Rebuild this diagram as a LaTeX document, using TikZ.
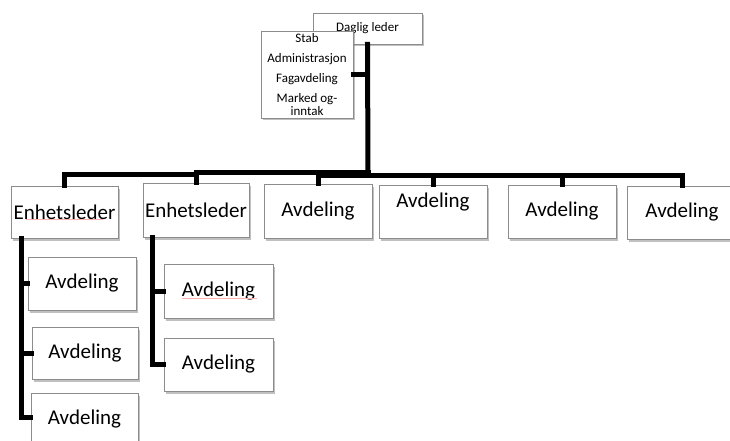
\documentclass[tikz,border=0pt]{standalone}
\usepackage{fontspec}
\setmainfont{Carlito}
\usetikzlibrary{shadows}
\begin{document}
\begin{tikzpicture}[x=1pt,y=-1pt,
  box/.style={draw=black!45, line width=0.8pt, fill=white, inner sep=0pt,
    drop shadow={shadow xshift=1.5pt, shadow yshift=-2.5pt, opacity=0.45, fill=black!55},
    font=\fontsize{21}{25}\selectfont},
  small/.style={font=\fontsize{13}{20}\selectfont},
  conn/.style={line width=5pt, line join=miter, line cap=rect},
  spell/.style={draw=red!30, line width=0.6pt}]
\useasboundingbox (0,0) rectangle (730,441);
\clip (0,0) rectangle (730,441);
% top
\node[box, small, minimum width=109pt, minimum height=31pt] (dl) at (367.5,28.5) {Daglig leder};
\node[box, small, align=center, minimum width=92pt, minimum height=87pt] (stab) at (307,74.5)
  {Stab\\Administrasjon\\Fagavdeling\\Marked og-\\[-7pt]inntak};
% top row
\node[box, minimum width=107pt, minimum height=52pt] (enh1) at (64.5,212) {Enhetsleder};
\node[box, minimum width=106pt, minimum height=54pt] (enh2) at (196,210) {Enhetsleder};
\node[box, minimum width=108pt, minimum height=54pt] (av3) at (318,211) {Avdeling};
\node[box, minimum width=108pt, minimum height=53pt, text height=12pt, text depth=21pt] (av4) at (433,211.5) {Avdeling};
\node[box, minimum width=108pt, minimum height=53pt] (av5) at (562,211.5) {Avdeling};
\node[box, minimum width=110pt, minimum height=53pt] (av6) at (682,212.5) {Avdeling};
% column 1
\node[box, minimum width=108pt, minimum height=53pt] (a1) at (82,283.5) {Avdeling};
\node[box, minimum width=106pt, minimum height=52pt] (a2) at (85,353) {Avdeling};
\node[box, minimum width=107pt, minimum height=53pt] (a3) at (84.5,419.5) {Avdeling};
% column 2
\node[box, minimum width=109pt, minimum height=54pt] (b1) at (218.5,291) {Avdeling};
\node[box, minimum width=109pt, minimum height=53pt] (b2) at (218.5,364.5) {Avdeling};
% spell-check underlines
\draw[spell] (26,219) -- (103,219);
\draw[spell] (182,298) -- (257,298);
% bus coordinates
\coordinate (busL) at (196,174.5);
\coordinate (busM) at (368,172);
\coordinate (busR) at (368,175);
% connectors
\draw[conn] (dl.south) -- (busR);
\draw[conn] (stab.east) -- (stab.east -| dl.south);
\draw[conn] (enh1.north) |- (busL);
\draw[conn] (enh2.north) |- (busM);
\draw[conn] (av3.north) |- (busR);
\draw[conn] (busR) -| (av4.north);
\draw[conn] (busR) -| (av5.north);
\draw[conn] (busR) -| (av6.north);
\coordinate (c1) at ([xshift=11pt]enh1.south west);
\coordinate (c2) at ([xshift=10pt]enh2.south west);
\draw[conn] (c1) |- (a1.west);
\draw[conn] (c1) |- (a2.west);
\draw[conn] (c1) |- ([yshift=2.5pt]a3.west);
\draw[conn] (c2) |- (b1.west);
\draw[conn] (c2) |- (b2.west);
\end{tikzpicture}
\end{document}
